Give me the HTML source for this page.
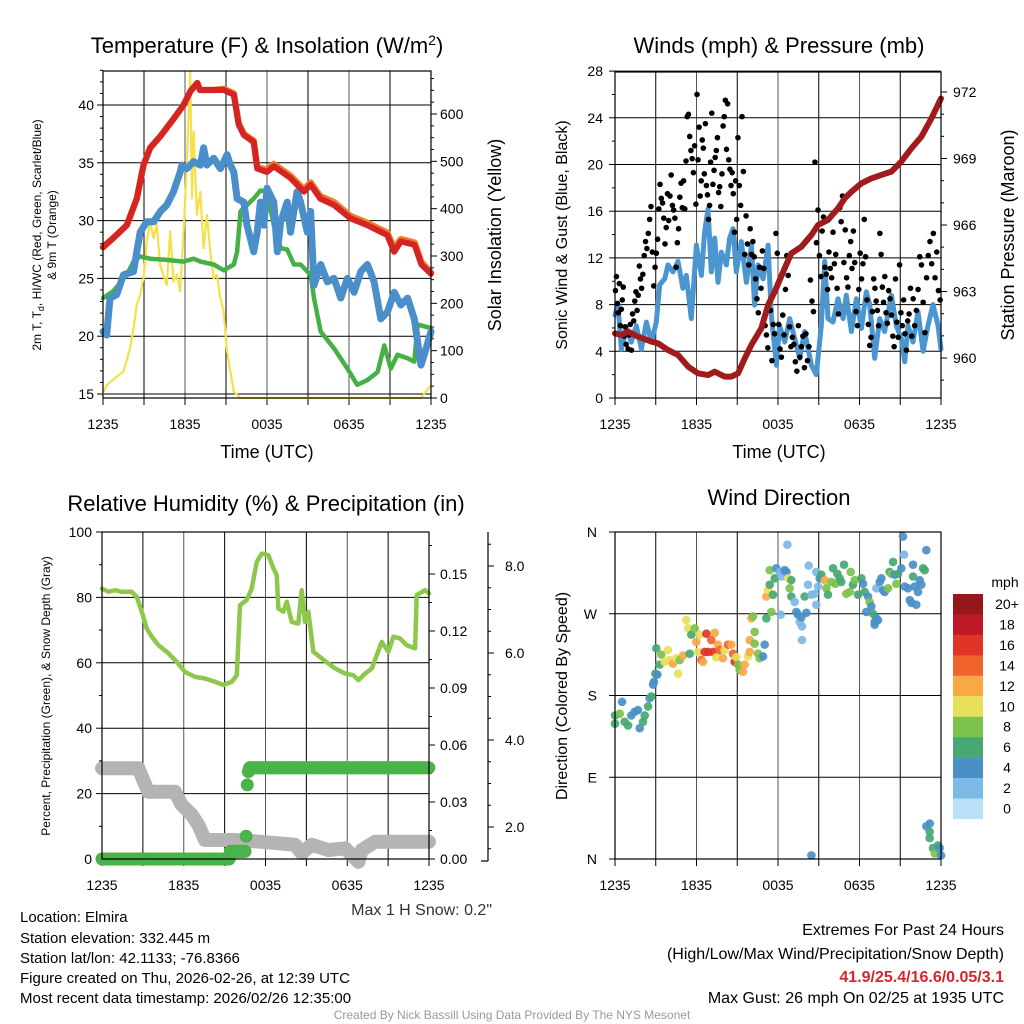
<!DOCTYPE html>
<html><head><meta charset="utf-8">
<style>
html,body{margin:0;padding:0;background:#fff;}
svg{display:block;font-family:"Liberation Sans",Arial,sans-serif;}
</style></head>
<body>
<svg id="c" width="1024" height="1024" viewBox="0 0 1024 1024" xmlns="http://www.w3.org/2000/svg">
<rect width="1024" height="1024" fill="#fff"/>
<g id="gp1"></g>
<g id="gp2"></g>
<g id="gp3"></g>
<g id="gp4"></g>

<text x="267" y="53" font-size="22" text-anchor="middle">Temperature (F) &amp; Insolation (W/m<tspan dy="-8" font-size="14">2</tspan><tspan dy="8">)</tspan></text>
<text x="779" y="53" font-size="22" text-anchor="middle">Winds (mph) &amp; Pressure (mb)</text>
<text x="266" y="511" font-size="22" text-anchor="middle">Relative Humidity (%) &amp; Precipitation (in)</text>
<text x="779" y="505" font-size="22" text-anchor="middle">Wind Direction</text>

<text x="267" y="458" font-size="18" text-anchor="middle">Time (UTC)</text>
<text x="779" y="458" font-size="18" text-anchor="middle">Time (UTC)</text>

<text transform="translate(41,235) rotate(-90)" font-size="12" text-anchor="middle">2m T, T<tspan dy="3" font-size="9">d</tspan><tspan dy="-3">, HI/WC (Red, Green, Scarlet/Blue)</tspan></text>
<text transform="translate(56,235) rotate(-90)" font-size="12" text-anchor="middle">&amp; 9m T (Orange)</text>
<text transform="translate(501,235) rotate(-90)" font-size="18" text-anchor="middle">Solar Insolation (Yellow)</text>
<text transform="translate(567,235) rotate(-90)" font-size="16" text-anchor="middle">Sonic Wind &amp; Gust (Blue, Black)</text>
<text transform="translate(1014,235) rotate(-90)" font-size="18" text-anchor="middle">Station Pressure (Maroon)</text>
<text transform="translate(50,696) rotate(-90)" font-size="12" text-anchor="middle">Percent, Precipitation (Green), &amp; Snow Depth (Gray)</text>
<text transform="translate(567,696) rotate(-90)" font-size="16" text-anchor="middle">Direction (Colored By Speed)</text>

<text x="492" y="915" font-size="16" text-anchor="end" fill="#333">Max 1 H Snow: 0.2"</text>

<g font-size="15">
<text x="20" y="922">Location: Elmira</text>
<text x="20" y="943">Station elevation: 332.445 m</text>
<text x="20" y="963">Station lat/lon: 42.1133; -76.8366</text>
<text x="20" y="983">Figure created on Thu, 2026-02-26, at 12:39 UTC</text>
<text x="20" y="1003">Most recent data timestamp: 2026/02/26 12:35:00</text>
</g>
<g font-size="16" text-anchor="end">
<text x="1004" y="935">Extremes For Past 24 Hours</text>
<text x="1004" y="959">(High/Low/Max Wind/Precipitation/Snow Depth)</text>
<text x="1004" y="982" fill="#d0282e" font-weight="bold">41.9/25.4/16.6/0.05/3.1</text>
<text x="1004" y="1003">Max Gust: 26 mph On 02/25 at 1935 UTC</text>
</g>
<text x="512" y="1019" font-size="12" text-anchor="middle" fill="#999">Created By Nick Bassill Using Data Provided By The NYS Mesonet</text>
</svg>
<script>
// ---------- DATA ----------
const xTickLabels = ["1235","1835","0035","0635","1235"];
const tempTicks = [15,20,25,30,35,40];
const solarTicks = [0,100,200,300,400,500,600];
const windTicks = [0,4,8,12,16,20,24,28];
const presTicks = [960,963,966,969,972];
const rhTicks = [0,20,40,60,80,100];
const precipTicks = [0,0.03,0.06,0.09,0.12,0.15];
const snowTicks = [2,4,6,8];
const dirTicks = [0,90,180,270,360];
const dirLabels = ["N","E","S","W","N"];
const cbLabels = ["20+","18","16","14","12","10","8","6","4","2","0"];
const cbColors = ["#96171b","#bf1b26","#e03427","#f0632a","#f9a846","#e8e05a","#7cc24c","#47a871","#4a8fc6","#7cb9e6","#b8e1f7"];

const tempT = [0,0.76,1.74,2.47,2.96,3.45,4.2,5.16,5.9,6.4,6.9,7.1,8.1,8.83,9.57,9.93,10.3,11.03,11.28,12.0,12.5,13.7,14.7,15.2,15.9,16.9,18.1,19.35,20.8,21.3,21.8,22.8,23.3,24];
const tempRed = [27.7,28.5,29.6,31.9,34.8,36.3,37.3,38.8,40.0,41.2,41.9,41.3,41.3,41.3,40.9,38.3,37.4,36.8,34.5,34.2,34.7,33.7,32.5,33.1,31.9,31.35,30.2,29.6,28.75,27.3,28.2,27.9,26.2,25.4];
const temp9m = [27.7,28.5,29.6,31.9,34.8,36.3,37.3,38.8,40.0,41.2,41.9,41.3,41.3,41.4,41.0,38.4,37.5,36.9,34.6,34.4,34.9,33.9,32.7,33.3,32.1,31.6,30.4,29.8,28.95,27.6,28.4,28.1,26.4,25.5];

const wcT = [0,0.27,0.51,1.0,1.49,2.23,2.47,2.72,3.2,3.7,4.2,4.67,5.16,5.65,5.77,6.14,6.63,7.12,7.36,7.6,8.1,8.59,9.08,9.32,9.57,9.81,10.3,10.54,11.03,11.28,11.52,11.77,12.0,12.5,12.75,13.0,13.48,13.72,14.2,14.46,14.95,15.19,15.44,15.93,16.42,16.9,17.4,17.88,18.37,18.86,19.35,19.84,20.33,20.82,21.31,21.8,22.29,22.78,23.27,23.51,24];
const wcVal = [20.4,20.1,23.3,23.6,25.3,25.6,27.3,29.0,29.9,29.9,30.8,31.35,32.5,34.2,34.8,34.5,35.1,34.8,36.3,34.8,35.4,34.5,35.7,34.8,34.2,31.9,31.6,29.6,27.3,29.0,31.6,29.6,32.8,31.6,27.3,29.9,31.6,29.0,32.5,31.6,29.0,30.8,24.4,26.2,24.7,25.0,23.3,25.0,23.8,25.6,26.2,24.7,21.5,22.1,23.8,22.7,23.3,21.5,17.5,18.4,20.4];

const tdT = [0,0.76,1.74,2.23,2.72,3.45,4.67,5.9,6.63,7.12,8.1,8.83,9.57,9.81,10.06,10.54,11.03,11.52,12.0,12.5,13.0,13.48,13.97,14.46,14.95,15.19,15.44,15.93,16.9,17.88,18.6,19.35,20.09,20.58,21.06,21.55,22.29,22.78,23.02,24];
const tdVal = [23.3,23.9,25.3,26.45,26.9,26.7,26.6,26.45,26.7,26.45,26.2,25.7,26.2,27.3,30.8,31.35,31.9,32.6,32.5,29.6,27.6,27.5,26.2,26.2,25.6,25.3,23.3,20.4,18.95,17.2,15.8,16.2,16.9,19.2,17.2,18.4,18.1,17.8,21.0,20.7];

const solT = [0,0.27,1.0,1.49,1.98,2.23,2.47,2.72,2.96,3.2,3.45,3.7,3.94,4.18,4.67,4.92,5.16,5.41,5.65,5.9,6.14,6.26,6.38,6.51,6.63,6.87,7.12,7.36,7.6,7.85,8.1,8.34,8.59,8.83,9.08,9.57,10.06,23.27,24];
const solVal = [10,27,45,56,105,147,197,218,253,330,373,338,366,281,239,352,246,260,225,352,493,598,690,422,563,387,436,316,387,309,253,260,211,182,98,13,0,0,27];

const presT = [0,0.47,0.96,1.7,2.68,3.17,3.9,4.64,5.38,6.11,6.85,7.34,8.07,8.57,9.06,9.55,10.04,10.77,11.27,11.76,12.49,12.98,13.72,14.46,14.95,15.68,16.42,16.91,17.4,18.14,18.87,19.61,20.35,21.08,21.82,22.55,23.29,24];
const presVal = [961.11,961.04,961.19,960.96,960.74,960.66,960.36,960.14,959.61,959.31,959.23,959.38,959.16,959.16,959.31,959.98,960.59,961.34,962.39,962.99,964.05,964.72,965.02,965.55,966.0,966.23,966.75,967.2,967.5,967.88,968.1,968.26,968.41,968.86,969.46,969.98,970.81,971.71];

const windT = [0,0.22,0.47,0.84,1.2,1.57,1.94,2.31,2.68,3.04,3.29,3.66,3.9,4.27,4.64,5.0,5.25,5.62,5.99,6.36,6.6,6.85,7.09,7.34,7.58,7.83,8.2,8.44,8.69,8.93,9.3,9.67,10.04,10.28,10.53,10.9,11.27,11.51,11.88,12.12,12.49,12.86,13.23,13.6,13.96,14.46,14.82,15.19,15.44,15.68,16.05,16.42,16.79,17.03,17.4,17.77,18.14,18.5,18.75,19.12,19.49,19.85,20.35,20.71,21.08,21.33,21.57,21.94,22.31,22.68,23.04,23.41,23.78,24];
const windVal = [7.1,8.0,4.2,6.0,4.8,6.2,4.2,6.5,4.8,6.5,9.7,10.2,11.4,10.8,11.7,9.4,10.5,6.8,13.1,10.5,14.2,16.2,10.8,13.7,9.9,12.5,11.4,13.7,14.5,10.8,13.4,9.9,13.1,7.96,11.4,10.2,13.1,7.1,2.8,6.2,4.8,6.8,5.1,3.4,5.7,2.8,2.0,6.2,11.7,6.8,6.5,8.5,6.8,8.8,5.7,8.5,5.96,9.1,8.0,3.4,6.8,5.7,8.8,6.2,5.1,3.1,6.2,4.8,7.4,4.0,6.2,8.0,6.2,4.2];

const gustByHour = [
 [9.2,10.4,8.1,7.3,9.8,6.2,7.6,8.4,9.5,5.3,6.1,4.6,5.7,4.2],
 [5.4,6.3,4.1,7.2,6.6,8.3,9.1,7.5,8.8,11.3,10.2,9.4],
 [10.6,12.2,13.4,12.8,14.1,15.3,16.4,12.5,9.6,11.2],
 [12.4,13.6,16.2,18.3,17.1,16.7,15.4,13.2,14.6,17.5,15.2],
 [17.3,19.1,16.5,16.1,15.4,11.2,13.3,14.5,17.2,18.4,16.3],
 [18.6,16.2,20.3,24.1,24.3,22.4,21.2,20.5,19.3,21.6,16.6],
 [26.0,20.4,23.2,17.3,18.6,22.1,21.4,19.2,23.5,18.2,17.4,15.3,16.5],
 [20.2,24.4,18.3,19.5,20.6,21.2,22.3,17.6,18.1,16.4,19.2,23.3],
 [24.1,25.5,21.3,25.2,20.4,19.6,18.2,19.3,17.5,14.2,18.6,15.3],
 [22.3,18.2,16.5,24.1,19.4,12.3,15.6,13.2,11.4,14.5],
 [12.3,13.4,12.1,10.2,8.5,7.3,11.2,9.4,12.6,11.1],
 [6.2,5.4,4.3,8.1,7.5,3.2,6.3,5.5,14.1,12.4],
 [6.3,4.2,3.5,7.1,5.4,9.3,12.2,10.5,6.1,4.4],
 [5.2,4.6,3.1,2.3,6.2,3.5,4.4,5.3,2.6],
 [5.5,3.2,4.4,10.1,8.3,7.4,20.2,13.3,16.1],
 [12.2,10.4,14.3,15.5,11.2,10.6,9.3,12.5,11.1,10.3],
 [14.2,11.5,12.3,9.4,7.2,16.3,15.1,17.3,11.6,14.4],
 [10.3,9.5,12.2,13.4,11.1,14.3,11.6,7.4,6.2,9.3],
 [12.4,10.2,11.5,15.3,12.1,8.4,6.3,4.5,5.2,7.4],
 [10.2,9.4,8.3,7.5,6.2,14.1,12.3,9.5,8.2,10.4,7.3],
 [6.4,9.2,8.5,7.1,5.3,4.4,10.2,6.5,5.2,11.4],
 [7.3,6.2,8.4,5.5,4.1,6.6,7.2,9.4,5.3,8.5],
 [6.2,7.5,9.3,12.1,11.4,8.2,5.6,10.3],
 [12.2,13.4,11.5,14.1,10.3,12.5,9.2,8.4]
];

const rhT = [0,0.47,0.96,1.45,2.18,2.55,2.92,3.28,3.65,4.14,4.87,5.48,6.1,6.83,7.56,8.3,8.91,9.52,9.89,10.13,10.62,10.99,11.36,11.72,12.21,12.58,12.82,12.95,13.31,13.56,13.92,14.41,14.66,14.9,15.15,15.51,16.13,16.62,17.1,17.84,18.45,18.82,19.31,19.8,20.16,20.53,21.02,21.39,21.88,22.36,22.98,23.1,23.71,24];
const rhVal = [82.7,81.7,82.2,81.7,81.7,80.2,75.6,70.5,68.0,65.4,62.9,60.3,57.2,55.7,55.2,54.2,53.2,54.2,56.2,77.6,79.2,82.7,90.9,93.4,92.9,88.9,86.8,76.6,75.6,78.7,72.5,72.0,82.2,72.5,75.6,63.4,61.3,59.8,58.3,56.7,56.2,54.7,56.7,58.3,62.3,66.4,63.4,68.0,67.4,65.4,64.4,80.7,82.2,81.2];

const precipT = [0,9.4,10.5,10.55,10.6,10.65,10.72,10.8,24];
const precipVal = [0,0.004,0.004,0.012,0.034,0.039,0.046,0.048,0.048];

const snowT = [0,2.67,3.4,4.38,5.36,5.85,6.58,7.07,7.56,9.77,11.72,14.17,14.66,15.39,16.62,17.84,18.82,19.06,20.04,24];
const snowVal = [3.35,3.35,2.81,2.81,2.81,2.51,2.28,2.05,1.70,1.70,1.66,1.59,1.40,1.59,1.47,1.51,1.20,1.47,1.66,1.66];

const dirT = [
 0,0,0.35,0.52,0.71,0.96,1.2,1.45,1.69,1.82,
 2.06,2.19,2.43,2.55,2.68,2.8,2.87,2.97,3.12,3.04,
 3.29,3.41,3.66,3.9,4.03,4.27,4.52,4.64,4.76,5.01,
 5.25,5.38,5.5,5.62,5.87,5.99,6.11,6.23,6.36,6.48,
 6.6,6.73,6.85,7.09,7.22,7.34,7.46,7.58,7.71,7.95,
 8.07,8.32,8.57,8.69,8.81,8.93,9.06,9.18,9.42,9.55,
 9.79,9.92,9.92,10.04,10.16,10.28,10.28,10.53,10.65,10.9,
 11.02,11.14,11.14,11.27,11.39,11.39,11.51,11.63,11.76,11.88,
 12.12,12.25,12.2,12.49,12.62,12.74,12.86,12.98,12.98,12.69,
 13.23,13.35,13.47,13.6,13.72,13.77,13.77,13.96,14.09,14.21,
 14.26,14.46,14.7,14.82,14.82,14.95,15.07,15.19,15.44,15.56,
 15.68,15.93,16.05,16.22,16.37,16.54,16.66,16.86,17.03,17.28,
 17.35,17.52,17.65,17.89,18.14,18.26,18.38,18.5,18.63,18.75,
 18.87,19.0,19.12,19.24,19.36,19.12,19.24,19.49,19.61,19.73,
 19.85,20.1,20.22,20.35,20.47,20.59,20.71,20.84,21.08,21.2,
 21.28,21.33,21.57,21.7,21.82,21.94,21.94,22.06,22.18,22.31,
 22.43,22.55,22.68,22.8,22.92,14.46,22.92,23.17,23.17,23.17,
 23.41,23.54,23.78,23.9,24.0];
const dirDeg = [
 149,158,160,173,151,147,158,162,164,144,
 151,158,168,177,179,192,195,204,203,232,
 214,225,217,230,219,215,221,204,219,224,
 263,254,226,247,254,239,228,247,219,217,
 228,248,228,241,228,249,222,236,230,221,
 230,236,236,226,217,222,214,208,206,214,
 223,228,241,265,267,237,250,226,221,223,
 236,265,289,296,302,318,272,291,309,320,
 316,311,269,318,316,309,298,289,307,346,
 283,272,269,261,266,256,241,289,271,302,
 323,291,292,316,280,300,309,313,307,298,
 291,305,320,303,314,309,305,324,292,294,
 316,302,307,291,309,303,294,272,289,283,
 278,270,261,265,263,258,298,305,309,296,
 294,298,316,314,327,313,303,314,320,355,
 335,300,298,285,282,324,311,300,280,294,
 307,302,320,318,340,4,36,39,30,23,
 12,6,15,12,4];
const dirSpd = [
 6,6,8,4,6,6,4,4,4,4,
 6,6,6,4,6,4,4,6,4,6,
 6,8,10,10,10,12,10,10,8,12,
 10,10,6,6,8,12,10,10,14,12,
 16,16,16,14,16,12,10,12,14,12,
 10,14,12,14,16,10,8,8,12,12,
 10,12,12,12,8,8,8,8,8,4,
 4,6,12,10,6,8,8,6,6,4,
 2,2,2,4,4,10,8,6,6,2,
 2,4,4,2,4,2,2,6,4,2,
 2,2,2,2,2,2,4,6,12,8,
 6,8,6,8,6,6,6,6,8,8,
 8,6,8,6,6,4,6,4,4,8,
 4,6,6,4,4,4,2,4,4,4,
 4,8,6,8,6,4,8,6,4,4,
 2,4,4,4,4,4,6,4,4,4,
 4,4,6,6,4,4,4,4,6,6,
 6,8,6,4,4];

// ---------- HELPERS ----------
const NS = "http://www.w3.org/2000/svg";
function mk(parent, tag, attrs){ const e=document.createElementNS(NS,tag); for(const k in attrs) e.setAttribute(k,attrs[k]); parent.appendChild(e); return e; }
function mkText(parent, x, y, s, anchor, size, name){
  const e=mk(parent,"text",{x:x,y:y,"font-size":size,"text-anchor":anchor});
  e.textContent=s;
  
  
  return e;
}
function xScale(x0,x1){ return t => x0 + (x1-x0)*t/24; }
function linScale(v0,p0,v1,p1){ return v => p0 + (v-v0)*(p1-p0)/(v1-v0); }
function pathLine(parent, ts, vs, sx, sy, color, w, name){
  let d=""; for(let i=0;i<ts.length;i++){ d += (i?"L":"M")+sx(ts[i]).toFixed(1)+","+sy(vs[i]).toFixed(1); }
  const p=mk(parent,"path",{d:d,fill:"none",stroke:color,"stroke-width":w,"stroke-linejoin":"round","stroke-linecap":"round"});
  
  
  return p;
}
function frame(g,x0,y0,x1,y1,name){
  const r=mk(g,"rect",{x:x0,y:y0,width:x1-x0,height:y1-y0,fill:"none",stroke:"#000","stroke-width":1.2});
  
  
}
function vgrid(g,sx,y0,y1){
  for(let h=3;h<24;h+=3){ const l=mk(g,"line",{x1:sx(h),x2:sx(h),y1:y0,y2:y1,stroke:(h%6==0)?"#555":"#000","stroke-width":1});
    
     }
}
function hgrid(g,x0,x1,y){ const l=mk(g,"line",{x1:x0,x2:x1,y1:y,y2:y,stroke:"#000","stroke-width":1});
  
   }
function xAxis(g,sx,yb,ylab){
  for(let h=0;h<=24;h+=3){ const l=mk(g,"line",{x1:sx(h),x2:sx(h),y1:yb,y2:yb+7,stroke:"#000","stroke-width":1});
    
     }
  xTickLabels.forEach((s,i)=>mkText(g,sx(i*6),ylab,s,"middle",14,"x-tick-label"));
}
function spdColor(s){ let idx = Math.min(10, Math.floor(s/2)); return cbColors[10-idx]; }

// ---------- PANEL 1 ----------
(function(){
  const g=document.getElementById("gp1");
  const x0=103,x1=431,y0=71,y1=398;
  const sx=xScale(x0,x1), sy=linScale(15,394,40,105), ss=linScale(0,398,600,114);
  vgrid(g,sx,y0,y1);
  tempTicks.forEach(v=>hgrid(g,x0,x1,sy(v)));
  tempTicks.forEach(v=>mkText(g,x0-9,sy(v)+5,String(v),"end",14,"temp-tick-label"));
  for(let v=15;v<=43;v++){ const l=mk(g,"line",{x1:x0-(v%5?3:6),x2:x0,y1:sy(v),y2:sy(v),stroke:"#000"});   }
  solarTicks.forEach(v=>mkText(g,x1+9,ss(v)+5,String(v),"start",14,"solar-tick-label"));
  for(let v=0;v<=680;v+=25){ const l=mk(g,"line",{x1:x1,x2:x1+(v%100?3:6),y1:ss(v),y2:ss(v),stroke:"#000"});   }
  xAxis(g,sx,y1,429);
  pathLine(g,solT,solVal,sx,ss,"#f5e04a",2.2,"solar-line");
  pathLine(g,tdT,tdVal,sx,sy,"#45b045",4.5,"dewpoint-line");
  pathLine(g,wcT,wcVal,sx,sy,"#4a8fc9",7,"windchill-line");
  pathLine(g,tempT,temp9m,sx,sy,"#f07d2a",6.5,"temp-9m-line");
  pathLine(g,tempT,tempRed,sx,sy,"#d42424",6,"temp-2m-line");
  frame(g,x0,y0,x1,y1,"temp-plot-frame");
})();

// ---------- PANEL 2 ----------
(function(){
  const g=document.getElementById("gp2");
  const x0=615,x1=941,y0=72,y1=398;
  const sx=xScale(x0,x1), sy=linScale(0,398,4,351.3), sp=linScale(960,358,972,92);
  vgrid(g,sx,y0,y1);
  windTicks.forEach(v=>hgrid(g,x0,x1,sy(v)));
  windTicks.forEach(v=>mkText(g,x0-12,sy(v)+5,String(v),"end",14,"wind-tick-label"));
  for(let v=0;v<=28;v+=2){ const l=mk(g,"line",{x1:x0-(v%4?3:6),x2:x0,y1:sy(v),y2:sy(v),stroke:"#000"});   }
  presTicks.forEach(v=>mkText(g,x1+12,sp(v)+5,String(v),"start",14,"pressure-tick-label"));
  for(let v=958;v<=973;v++){ const y=sp(v); if(y<y0||y>y1) continue; const l=mk(g,"line",{x1:x1,x2:x1+(v%3?3:6),y1:y,y2:y,stroke:"#000"});   }
  xAxis(g,sx,y1,429);
  pathLine(g,windT,windVal,sx,sy,"#4b95d0",5,"sonic-wind-line");
  gustByHour.forEach((arr,h)=>{ arr.forEach((v,i)=>{
    const t=h+(i+0.5)/arr.length;
    const c=mk(g,"circle",{cx:sx(t),cy:sy(v),r:2.8,fill:"#000"});
    
    
  });});
  pathLine(g,presT,presVal,sx,sp,"#a01c1c",6,"pressure-line");
  frame(g,x0,y0,x1,y1,"wind-plot-frame");
})();

// ---------- PANEL 3 ----------
(function(){
  const g=document.getElementById("gp3");
  const x0=102,x1=429,y0=532,y1=859;
  const sx=xScale(x0,x1), sy=linScale(0,859,100,532), spr=linScale(0,859,0.15,574), ssn=linScale(2,827,8,566);
  vgrid(g,sx,y0,y1);
  rhTicks.forEach(v=>hgrid(g,x0,x1,sy(v)));
  rhTicks.forEach(v=>mkText(g,x0-10,sy(v)+5,String(v),"end",14,"rh-tick-label"));
  for(let v=0;v<=100;v+=10){ const l=mk(g,"line",{x1:x0-(v%20?3:6),x2:x0,y1:sy(v),y2:sy(v),stroke:"#000"});   }
  precipTicks.forEach(v=>mkText(g,x1+11,spr(v)+5,v.toFixed(2),"start",14,"precip-tick-label"));
  for(let v=0;v<=0.171;v+=0.015){ const l=mk(g,"line",{x1:x1,x2:x1+(Math.round(v*1000)%30?3:6),y1:spr(v),y2:spr(v),stroke:"#000"});   }
  const sa=mk(g,"line",{x1:488,x2:488,y1:y0,y2:y1+2,stroke:"#000","stroke-width":1.2});
   
  const sb=mk(g,"line",{x1:481,x2:488,y1:y1+2,y2:y1+2,stroke:"#000","stroke-width":1.2});
   
  snowTicks.forEach(v=>mkText(g,505,ssn(v)+5,v.toFixed(1),"start",14,"snow-tick-label"));
  for(let v=1.5;v<=9;v+=0.5){ const y=ssn(v); if(y<y0||y>y1) continue; const l=mk(g,"line",{x1:488,x2:488+(v%2?3:6),y1:y,y2:y,stroke:"#000"});   }
  xAxis(g,sx,y1,890);
  pathLine(g,snowT,snowVal,sx,ssn,"#b4b4b4",14,"snow-depth-line");
  for(let t=0;t<=24.001;t+=0.0833){
    let v=precipVal[0]; for(let i=0;i<precipT.length;i++){ if(precipT[i]<=t+1e-6) v=precipVal[i]; }
    const c=mk(g,"circle",{cx:sx(t),cy:spr(v),r:6.5,fill:"#4bb34b"});
    
    
  }
  pathLine(g,rhT,rhVal,sx,sy,"#8dc84c",4.5,"rh-line");
  frame(g,x0,y0,x1,y1,"rh-plot-frame");
})();

// ---------- PANEL 4 ----------
(function(){
  const g=document.getElementById("gp4");
  const x0=615,x1=941,y0=532,y1=859;
  const sx=xScale(x0,x1), sy=linScale(0,859,360,532);
  vgrid(g,sx,y0,y1);
  dirTicks.forEach(v=>hgrid(g,x0,x1,sy(v)));
  dirTicks.forEach((v,i)=>mkText(g,x0-18,sy(v)+5,dirLabels[i],"end",14,"direction-tick-label"));
  dirTicks.forEach(v=>{ const l=mk(g,"line",{x1:x0-6,x2:x0,y1:sy(v),y2:sy(v),stroke:"#000"});   });
  xAxis(g,sx,y1,890);
  const n=Math.min(dirT.length,dirDeg.length,dirSpd.length);
  for(let i=0;i<n;i++){
    const c=mk(g,"circle",{cx:sx(dirT[i]),cy:sy(dirDeg[i]),r:4.3,fill:spdColor(dirSpd[i]),"fill-opacity":0.92});
    
    
  }
  frame(g,x0,y0,x1,y1,"direction-plot-frame");
  const cb=mk(g,"g",{});
  
  
  mkText(cb,1005,587,"mph","middle",14,"colorbar-title");
  cbColors.forEach((col,i)=>{
    const r=mk(cb,"rect",{x:953,y:594+i*20.45,width:30,height:20.6,fill:col});
    
    
    mkText(cb,1007,594+i*20.45+15,cbLabels[i],"middle",14,"colorbar-label");
  });
})();
</script>
</body></html>
